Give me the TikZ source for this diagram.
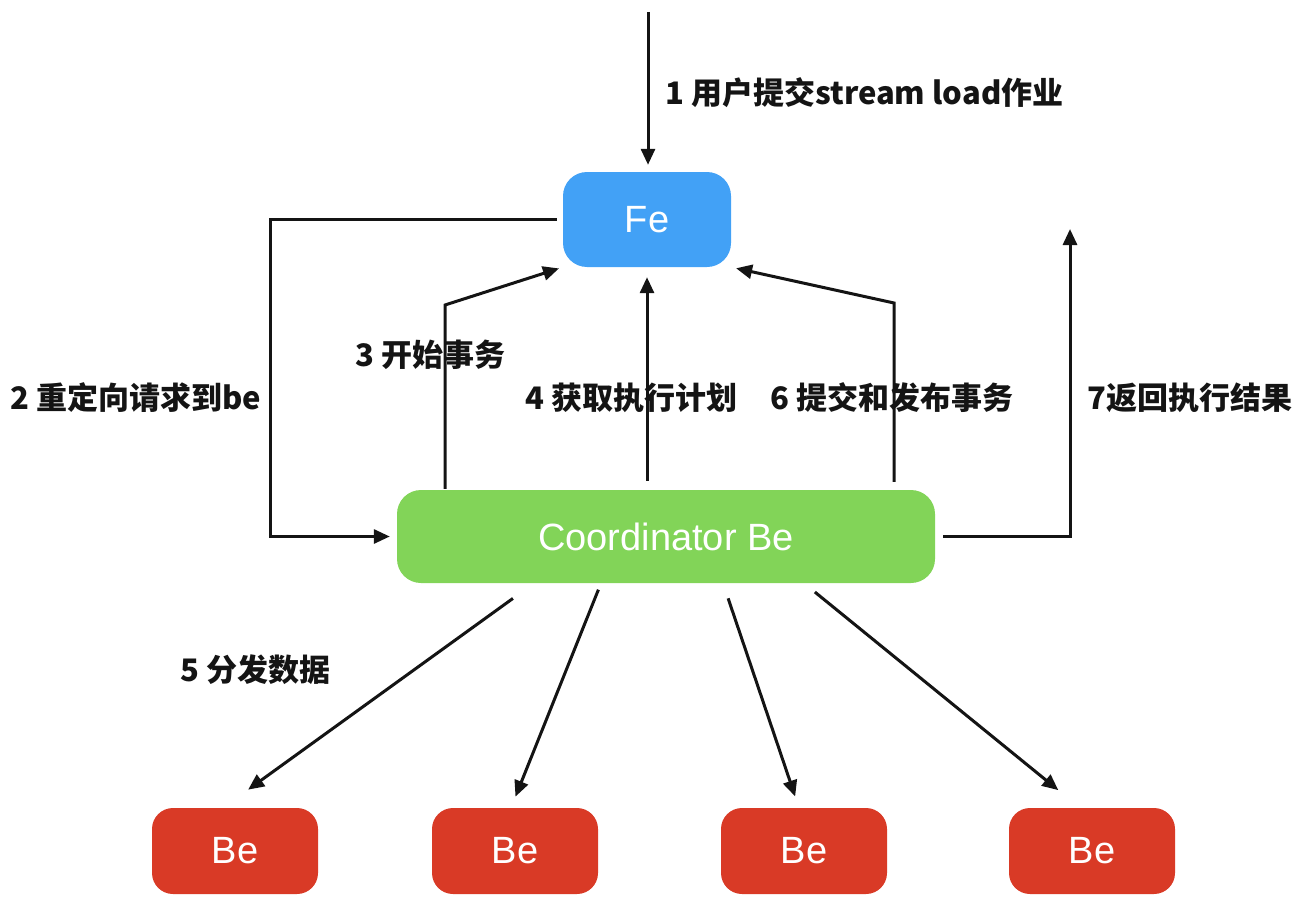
\documentclass[tikz,border=0pt]{standalone}
\usepackage{fontspec}
\setmainfont{Liberation Sans}
\newfontfamily\cjk{Noto Sans CJK SC}
\usetikzlibrary{arrows.meta}
\definecolor{feblue}{RGB}{66,161,246}
\definecolor{cogreen}{RGB}{130,212,88}
\definecolor{bered}{RGB}{217,58,38}
\definecolor{ink}{RGB}{20,20,20}
\tikzset{
  box/.style={rounded corners=24pt, inner sep=0pt, text=white, font=\fontsize{38}{42}\selectfont},
  febox/.style={box, fill=feblue, minimum width=168pt, minimum height=95pt},
  cobox/.style={box, fill=cogreen, minimum width=538pt, minimum height=93pt},
  bebox/.style={box, fill=bered, minimum width=166pt, minimum height=86pt, rounded corners=21pt},
  arr/.style={draw=ink, line width=3pt, -{Triangle[length=16pt,width=14pt]}},
  lbl/.style={anchor=west, inner sep=0pt, text=ink, font=\cjk\bfseries\fontsize{31}{36}\selectfont}
}
\begin{document}
\begin{tikzpicture}[x=1pt,y=-1pt]
\useasboundingbox (0,0) rectangle (1314,899);
\node[febox] (fe) at (647,219.5) {Fe};
\node[cobox] (co) at (666,536.5) {Coordinator Be};
\node[bebox] (be1) at (235,851) {Be};
\node[bebox] (be2) at (515,851) {Be};
\node[bebox] (be3) at (804,851) {Be};
\node[bebox] (be4) at (1092,851) {Be};

\coordinate (c1) at (648,12);
\coordinate (c2) at (270,300);
\coordinate (c3) at (445,305);
\coordinate (c6) at (894,303);
\coordinate (c7) at (1070,229);

% 1
\draw[arr, shorten >=7pt] (c1) -- (c1 |- fe.north);
% 2
\draw[arr, shorten <=6pt, shorten >=7pt] (fe.west) -- (fe.west -| c2) |- (co.west);
% 3
\draw[arr, shorten <=1pt, shorten >=4pt] (c3 |- co.north) -- (c3) -- (fe.south west);
% 4
\draw[arr, shorten <=9pt, shorten >=10pt] (fe.south |- co.north) -- (fe.south);
% 6
\draw[arr, shorten <=8pt, shorten >=5pt] (c6 |- co.north) -- (c6) -- (fe.south east);
% 7
\draw[arr, shorten <=8pt] (co.east) -| (c7);
% 5
\draw[arr, shorten <=26pt, shorten >=31pt] ([xshift=-132pt]co.south) -- ([xshift=-12pt]be1.north);
\draw[arr, shorten <=7pt, shorten >=12pt] ([xshift=-65pt]co.south) -- ([xshift=-4pt]be2.north);
\draw[arr, shorten <=16pt, shorten >=12pt] ([xshift=57pt]co.south) -- ([xshift=-5pt]be3.north);
\draw[arr, shorten <=14pt, shorten >=28pt] ([xshift=138pt]co.south) -- ([xshift=-12pt]be4.north);

\node[lbl] (l1) at (665,93) {1 用户提交stream load作业};
\node[lbl] (l2) at (10,398) {2 重定向请求到be};
\node[lbl] (l3) at (355,355) {3 开始事务};
\node[lbl] (l4) at (525,398) {4 获取执行计划};
\node[lbl] (l5) at (180,670) {5 分发数据};
\node[lbl] (l6) at (770,398) {6 提交和发布事务};
\node[lbl] (l7) at (1087,398) {7返回执行结果};
\end{tikzpicture}
\end{document}
